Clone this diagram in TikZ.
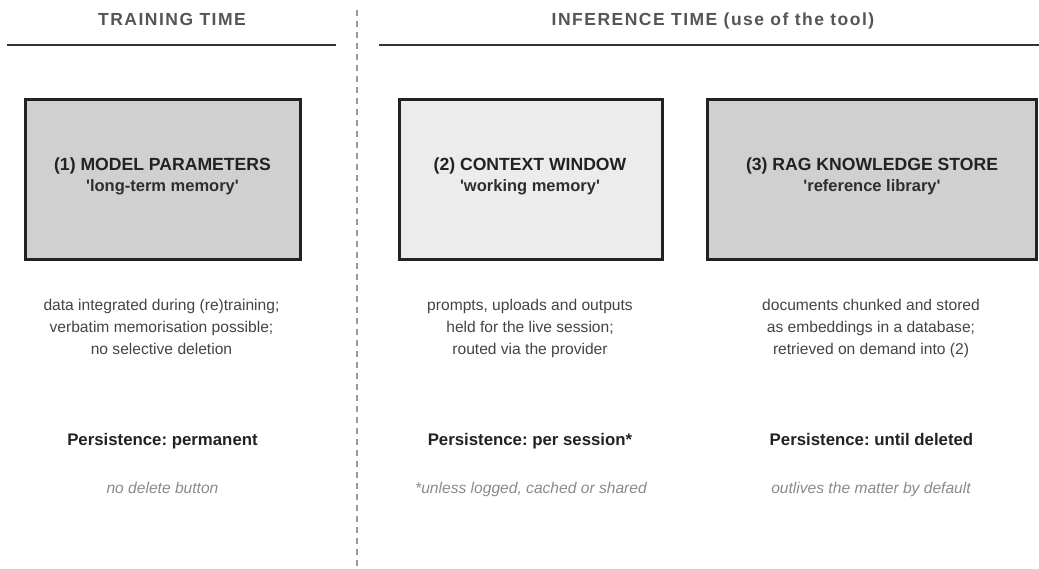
\documentclass[tikz,border=0pt]{standalone}
\usepackage{fontspec}
\setmainfont{Liberation Sans}[Ligatures=TeXOff]
\frenchspacing
\definecolor{hdr}{HTML}{555555}
\definecolor{ink}{HTML}{222222}
\definecolor{sub}{HTML}{2E2E2E}
\definecolor{desc}{HTML}{444444}
\definecolor{note}{HTML}{8A8A8A}
\definecolor{fillA}{HTML}{D0D0D0}
\definecolor{fillB}{HTML}{ECECEC}
\definecolor{rule}{HTML}{333333}
\definecolor{divider}{HTML}{9A9A9A}
\begin{document}
\begin{tikzpicture}[x=1pt,y=-1pt,
  header/.style={anchor=base,inner sep=0pt,text=hdr,font=\fontsize{17.5}{21}\selectfont\bfseries\addfontfeature{LetterSpace=8.5}},
  hrule/.style={draw=rule,line width=2pt},
  memorybox/.style={draw=ink,line width=3pt,inner sep=0pt},
  boxtitle/.style={anchor=base,inner sep=0pt,text=ink,font=\fontsize{17.6}{21}\selectfont\bfseries},
  boxsub/.style={anchor=base,inner sep=0pt,text=sub,font=\fontsize{16.5}{20}\selectfont\bfseries},
  desc/.style={anchor=base,inner sep=0pt,text=desc,font=\fontsize{15.6}{22}\selectfont},
  persist/.style={anchor=base,inner sep=0pt,text=ink,font=\fontsize{16.8}{20}\selectfont\bfseries},
  note/.style={anchor=base,inner sep=0pt,text=note,font=\fontsize{15.6}{20}\selectfont\itshape},
  divline/.style={draw=divider,line width=1.2pt,dash pattern=on 6pt off 5pt}
]
\useasboundingbox (0,0) rectangle (1039,569);

% divider
\coordinate (dtop) at (357,10);
\coordinate (dbot) at (357,569);
\draw[divline] (dtop) -- (dbot);

% headers
\node[header] (htrain) at (172,26) {TRAINING TIME};
\node[header] (hinf) at (713,26) {INFERENCE TIME (use of the tool)};
\coordinate (l1a) at (7,45);
\coordinate (l1b) at (336,45);
\coordinate (l2a) at (379,45);
\coordinate (l2b) at (1039,45);
\draw[hrule] (l1a) -- (l1b);
\draw[hrule] (l2a) -- (l2b);

% boxes
\node[memorybox,fill=fillA,minimum width=275pt,minimum height=160pt] (b1) at (162.5,180) {};
\node[memorybox,fill=fillB,minimum width=263pt,minimum height=160pt] (b2) at (530.5,180) {};
\node[memorybox,fill=fillA,minimum width=329pt,minimum height=160pt] (b3) at (871.5,180) {};

\node[boxtitle] (t1) at (162.5,171) {(1) MODEL PARAMETERS};
\node[boxsub] (s1) at (162.5,192) {'long-term memory'};
\node[boxtitle] (t2) at (530,171) {(2) CONTEXT WINDOW};
\node[boxsub] (s2) at (530,192) {'working memory'};
\node[boxtitle] (t3) at (872,171) {(3) RAG KNOWLEDGE STORE};
\node[boxsub] (s3) at (872,192) {'reference library'};

% descriptions
\node[desc] (d1a) at (161.5,311) {data integrated during (re)training;};
\node[desc] (d1b) at (161.5,333) {verbatim memorisation possible;};
\node[desc] (d1c) at (161.5,355) {no selective deletion};
\node[desc] (d2a) at (530,311) {prompts, uploads and outputs};
\node[desc] (d2b) at (530,333) {held for the live session;};
\node[desc] (d2c) at (530,355) {routed via the provider};
\node[desc] (d3a) at (871,311) {documents chunked and stored};
\node[desc] (d3b) at (871,333) {as embeddings in a database;};
\node[desc] (d3c) at (871,355) {retrieved on demand into (2)};

% persistence
\node[persist] (p1) at (162.5,445) {Persistence: permanent};
\node[persist] (p2) at (530,445) {Persistence: per session*};
\node[persist] (p3) at (871.5,445) {Persistence: until deleted};

\node[note] (n1) at (162.5,493) {no delete button};
\node[note] (n2) at (531,493) {*unless logged, cached or shared};
\node[note] (n3) at (871,493) {outlives the matter by default};
\end{tikzpicture}
\end{document}
